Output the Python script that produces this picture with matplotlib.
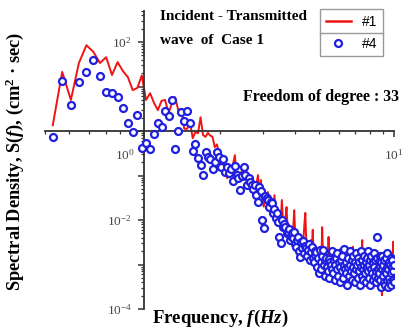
import numpy as np
import matplotlib
matplotlib.use("Agg")
import matplotlib.pyplot as plt
from matplotlib.lines import Line2D

plt.rcParams["font.family"] = ["Liberation Serif", "DejaVu Serif"]
plt.rcParams["mathtext.fontset"] = "custom"
plt.rcParams["mathtext.it"] = "Liberation Serif:italic:bold"
plt.rcParams["mathtext.rm"] = "Liberation Serif:bold"

# spectral density, log10 values, one per frequency bin
case1_log = [
    0.13, 1.33, 0.70, 1.53, 1.93, 1.78, 1.53, 1.66, 1.26, 1.55, 1.35, 1.21, 0.92, 0.97, 1.25,
    0.70, 0.85, 0.63, 0.47, 0.68, 0.70, 0.40, 0.62, 0.76, 0.47, 0.50, 0.05, 0.05, 0.20, -0.16,
    -0.02, -0.05, 0.31, -0.09, -0.13, -0.04, -0.10, -0.13, -0.36, -0.30,
    -0.49, -0.72, -0.60, -0.94, -1.06, -0.90, -0.85, -0.75, -0.54, -1.06, -0.95, -1.00, -0.88,
    -1.05, -1.10, -1.06, -1.15, -0.99, -1.25, -1.21, -1.30, -1.20, -0.99, -1.40, -1.10,
    -1.55, -1.70, -1.45, -1.60, -1.37, -1.75, -1.65, -1.80, -1.70, -1.44, -1.90, -1.85, -2.00,
    -1.95, -2.10, -1.55, -2.05, -2.15, -2.00, -1.71, -2.20, -2.10, -2.25, -2.15, -2.30,
    -2.20, -1.78, -2.35, -2.40, -2.30, -2.45, -2.35, -2.50, -2.40, -2.55, -2.45, -2.10, -1.84,
    -2.50, -2.60, -2.55, -2.70, -2.60, -2.45, -2.65, -2.22, -2.75, -2.65, -2.80, -2.70,
    -2.85, -2.75, -2.90, -2.80, -2.60, -2.95, -2.16, -2.85, -3.00, -2.90, -2.75, -2.95, -3.05,
    -2.90, -2.38, -3.00, -2.85, -3.10, -2.95, -2.80, -3.05, -2.90, -2.70, -3.00, -3.15,
    -2.95, -3.05, -2.85, -3.10, -2.90, -2.65, -3.00, -3.15, -2.90, -3.05, -2.80, -3.10, -2.95,
    -3.20, -2.85, -3.00, -2.70, -3.05, -3.15, -2.90, -3.00, -2.85, -3.10, -2.95, -2.60,
    -3.05, -2.90, -3.15, -2.95, -3.00, -2.80, -3.10, -2.95, -3.20, -2.85, -3.05, -2.90, -3.15,
    -3.00, -2.75, -2.45, -3.05, -2.90, -3.10, -3.25, -2.95, -3.05, -2.85, -3.15, -3.00,
    -2.90, -3.10, -2.95, -3.20, -2.80, -3.05, -3.15, -2.90, -3.00, -2.70, -3.10, -3.20, -2.95,
    -3.05, -2.85, -3.15, -3.00, -2.90, -3.25, -3.05, -2.95, -3.20, -3.10, -2.85, -3.00,
    -3.15, -3.05, -3.30, -3.69, -3.10, -2.95, -3.20, -3.05, -3.35, -3.10, -3.00, -3.25, -3.15,
    -3.40, -3.05, -3.20, -3.57, -3.25, -3.10, -3.30, -3.00, -3.20, -3.35, -3.15, -3.05, -3.30,
    -3.20, -3.10, -2.49, -3.25, -3.15,
]

case4_log = [
    -0.13, 1.12, 0.58, 1.10, 1.33, 1.60, 1.24, 0.88, 0.85, 0.76, 0.52, 0.18, -0.02, 0.36, -0.38,
    -0.27, -0.40, -0.07, 0.18, 0.09, 0.45, 0.34, 0.70, -0.40, 0.00, 0.43, 0.22, 0.45, 0.18,
    -0.45, -0.29, -0.61, -0.76, -0.99, -0.47, -0.58, -0.62, -0.85, -0.70, -0.47,
    -0.58, -0.81, -0.62, -0.92, -0.80, -0.94, -0.85, -1.12, -0.79, -0.99, -1.05, -1.33, -1.00,
    -0.81, -0.99, -1.21, -1.05, -1.15, -1.21, -1.30, -1.21, -1.44, -1.60, -1.25, -1.35,
    -2.00, -2.18, -1.45, -1.50, -1.55, -1.70, -1.60, -1.62, -1.84, -1.75, -1.95, -1.85, -2.04,
    -2.38, -2.52, -2.00, -2.15, -2.10, -2.16, -2.30, -2.27, -2.20, -2.45, -2.35, -2.30,
    -2.40, -2.28, -2.55, -2.61, -2.45, -2.38, -2.70, -2.83, -2.50, -2.62, -2.48, -2.75, -2.58,
    -2.63, -2.80, -2.68, -2.55, -2.90, -2.72, -2.60, -2.85, -2.95, -2.70, -2.78, -2.72,
    -3.06, -2.85, -3.20, -2.67, -2.95, -3.10, -2.80, -2.67, -3.00, -3.25, -2.90, -2.85, -3.05,
    -3.15, -2.88, -3.30, -2.95, -3.00, -2.70, -3.10, -3.20, -2.90, -3.35, -3.00, -2.85,
    -3.10, -2.75, -3.25, -2.95, -3.40, -3.05, -2.90, -3.15, -2.80, -3.30, -3.00, -2.65, -3.10,
    -3.20, -2.95, -3.45, -3.05, -2.85, -3.25, -3.00, -2.70, -3.15, -3.35, -2.90, -3.05,
    -2.80, -3.20, -2.95, -3.40, -3.10, -2.75, -3.00, -3.30, -2.85, -3.15, -2.95, -3.45, -2.70,
    -3.05, -3.25, -2.90, -3.10, -3.35, -2.80, -3.00, -3.20, -2.95, -3.40, -3.05, -2.85,
    -3.15, -2.70, -3.30, -3.00, -2.90, -3.45, -3.10, -2.80, -3.20, -2.95, -3.35, -2.75, -3.05,
    -3.25, -2.90, -3.15, -3.40, -2.85, -2.38, -3.10, -3.30, -2.95, -3.20, -2.80, -3.05,
    -3.35, -2.95, -3.50, -3.10, -2.80, -3.25, -3.00, -3.40, -2.90, -3.15, -3.45, -2.85, -3.20,
    -3.05, -3.35, -2.75, -3.10, -3.50, -2.95, -3.30, -3.00, -3.40, -2.85, -3.20, -3.45, -3.05,
    -2.90, -3.35, -3.15, -3.40, -3.00,
]

# frequency bins of the spectrum, df = 1/25.6 Hz starting at bin 11
freq = np.arange(11, 11 + len(case1_log)) / 25.6
s1 = 10.0 ** np.array(case1_log)
s4 = 10.0 ** np.array(case4_log)

red = "#f01414"
blue = "#1f1fe0"

fig = plt.figure(figsize=(4.04, 3.30), dpi=100)
ax = fig.add_axes([45 / 404, 21 / 330, 349 / 404, 298 / 330])

ax.plot(freq, s1, color=red, lw=1.4, zorder=2)
ax.plot(freq, s4, "o", mfc="white", mec=blue, ms=5.0, mew=1.6, zorder=3)

ax.set_xscale("log")
ax.set_yscale("log")
ax.set_xlim(0.4, 10)
ax.set_ylim(1e-4, 500)

for side in ["top", "right"]:
    ax.spines[side].set_visible(False)
ax.spines["left"].set_position(("data", 1.0))
ax.spines["bottom"].set_position(("data", 1.0))
for side in ["left", "bottom"]:
    ax.spines[side].set_linewidth(1.3)
    ax.spines[side].set_color("#333333")

ax.set_yticks([10.0 ** e for e in range(-4, 3)])
ax.set_yticklabels([r"$\mathregular{10^{-4}}$", "", r"$\mathregular{10^{-2}}$", "", "", "",
                    r"$\mathregular{10^{2}}$"])
ax.set_xticks([1, 10])
ax.set_xticklabels(["", r"$\mathregular{10^{1}}$"])
ax.tick_params(axis="both", which="major", direction="out", length=4, width=1.1,
               color="#333333", labelsize=9.5, labelcolor="#444444")
ax.tick_params(axis="y", which="major", pad=5)
ax.tick_params(axis="x", which="major", pad=8)
ax.tick_params(axis="both", which="minor", direction="out", length=2.2, width=0.9,
               color="#333333")
ax.yaxis.set_minor_formatter(plt.NullFormatter())
ax.xaxis.set_minor_formatter(plt.NullFormatter())

ax.annotate(r"$\mathregular{10^{0}}$", xy=(1, 1), xycoords="data", xytext=(-20, -24),
            textcoords="offset pixels", ha="center", va="center", fontsize=9.5,
            color="#444444")

fig.text(15 / 404, 1 - 162 / 330, r"Spectral Density, S($f$), (cm$\mathregular{^2}$ · sec)",
         rotation=90, ha="center", va="center", fontsize=13.2, fontweight="bold")
fig.text(152 / 404, 1 - 318 / 330, r"Frequency, $f$($Hz$)", ha="left", va="center",
         fontsize=13.5, fontweight="bold")

fig.text(160 / 404, 1 - 17 / 330, "Incident - Transmitted", ha="left", va="center",
         fontsize=11, fontweight="bold")
fig.text(160 / 404, 1 - 40 / 330, "wave  of  Case 1", ha="left", va="center",
         fontsize=11, fontweight="bold")
fig.text(243 / 404, 1 - 97 / 330, "Freedom of degree : 33", ha="left", va="center",
         fontsize=11.5, fontweight="bold")

handles = [Line2D([], [], color=red, lw=1.8),
           Line2D([], [], ls="none", marker="o", mfc="white", mec=blue, ms=5.0, mew=1.6)]
leg = ax.legend(handles, ["#1", "#4"], loc="upper left",
                bbox_to_anchor=(320 / 404, 1 - 9 / 330), bbox_transform=fig.transFigure,
                borderaxespad=0, frameon=True, fancybox=False, edgecolor="#999999",
                framealpha=1, handlelength=1.8, labelspacing=0.6, borderpad=0.4,
                handletextpad=0.8, prop={"family": "Liberation Sans", "size": 10})
leg.get_frame().set_linewidth(1.0)

# row divider of the legend table
fig.canvas.draw()
bb = leg.get_frame().get_window_extent().transformed(fig.transFigure.inverted())
ymid = (bb.y0 + bb.y1) / 2
fig.add_artist(Line2D([bb.x0, bb.x1], [ymid, ymid], color="#999999", lw=1.0))

fig.savefig("out.png", dpi=100)
